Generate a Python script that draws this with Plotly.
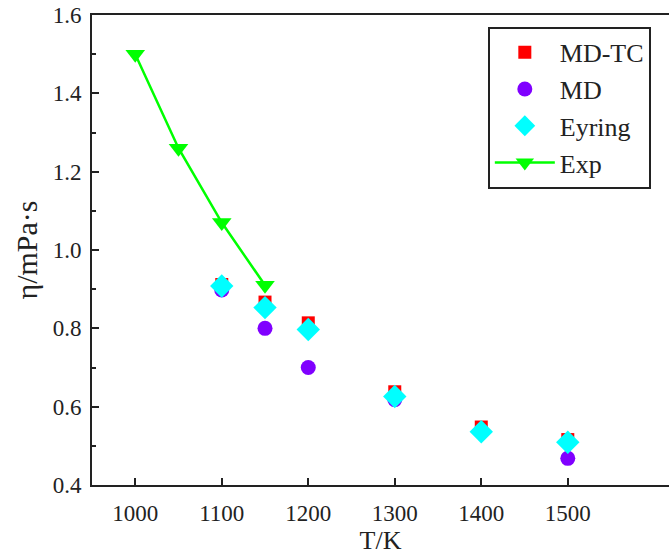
import plotly.graph_objects as go

T_exp = [1000, 1050, 1100, 1150]
eta_exp = [1.50, 1.26, 1.07, 0.91]

T_sim = [1100, 1150, 1200, 1300, 1400, 1500]
eta_mdtc = [0.912, 0.867, 0.814, 0.638, 0.548, 0.516]
eta_md = [0.898, 0.800, 0.700, 0.618, 0.538, 0.468]
eta_eyring = [0.908, 0.853, 0.797, 0.626, 0.536, 0.509]

font_family = "Liberation Serif, 'Times New Roman', serif"

fig = go.Figure()
fig.add_trace(go.Scatter(x=T_sim, y=eta_mdtc, mode="markers", name="MD-TC",
                         marker=dict(symbol="square", size=13, color="#ff0000")))
fig.add_trace(go.Scatter(x=T_sim, y=eta_md, mode="markers", name="MD",
                         marker=dict(symbol="circle", size=15, color="#8000ff")))
fig.add_trace(go.Scatter(x=T_sim, y=eta_eyring, mode="markers", name="Eyring",
                         marker=dict(symbol="diamond", size=18, color="#00ffff")))
fig.add_trace(go.Scatter(x=T_exp, y=eta_exp, mode="lines+markers", name="Exp",
                         line=dict(color="#00ff00", width=2.5),
                         marker=dict(symbol="triangle-down", size=17, color="#00ff00")))

fig.update_layout(
    width=669, height=560,
    margin=dict(l=92, r=0, t=15, b=75),
    plot_bgcolor="white", paper_bgcolor="white",
    font=dict(family=font_family, color="#222222", size=23),
    showlegend=True,
    legend=dict(x=0.686, y=0.975, xanchor="left", yanchor="top",
                bordercolor="#222222", borderwidth=2, bgcolor="white",
                font=dict(size=26, family=font_family), tracegroupgap=0,
                itemwidth=60),
)
fig.update_xaxes(range=[950, 1617], tickvals=[1000, 1100, 1200, 1300, 1400, 1500],
                 showline=True, linecolor="#222222", linewidth=2, mirror=True,
                 ticks="inside", ticklen=7, tickwidth=2, tickcolor="#222222",
                 showgrid=False, zeroline=False, ticklabelstandoff=6,
                 title=dict(text="T/K", font=dict(size=26), standoff=4),
                 tickfont=dict(size=23))
fig.update_yaxes(range=[0.4, 1.6], tickvals=[0.4, 0.6, 0.8, 1.0, 1.2, 1.4, 1.6],
                 ticktext=["0.4", "0.6", "0.8", "1.0", "1.2", "1.4", "1.6"],
                 showline=True, linecolor="#222222", linewidth=2, mirror=False,
                 ticks="inside", ticklen=7, tickwidth=2, tickcolor="#222222",
                 minor=dict(tickvals=[0.5, 0.7, 0.9, 1.1, 1.3, 1.5], ticks="inside",
                            ticklen=4, tickwidth=2, tickcolor="#222222"),
                 showgrid=False, zeroline=False, ticklabelstandoff=4,
                 title=dict(text="η/mPa·s", font=dict(size=30), standoff=6),
                 tickfont=dict(size=23))

fig.write_html("out.html")
